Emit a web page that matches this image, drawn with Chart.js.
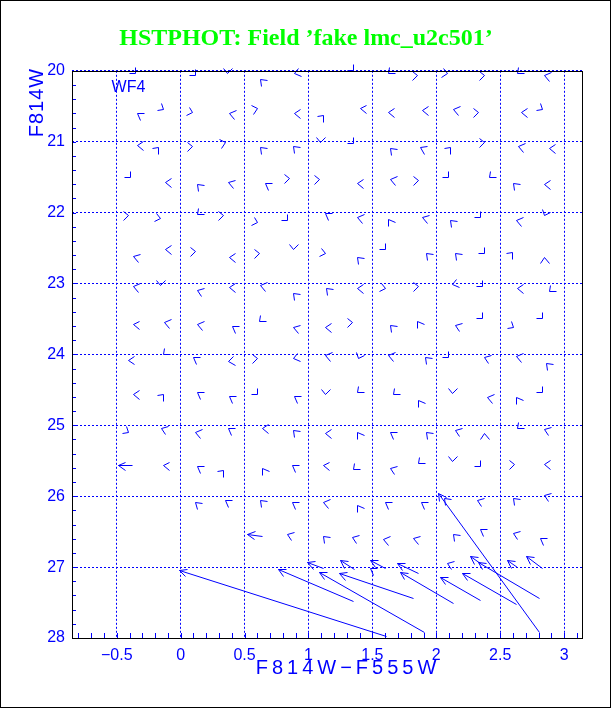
<!DOCTYPE html>
<html>
<head>
<meta charset="utf-8">
<script src="https://cdn.jsdelivr.net/npm/chart.js@4.4.1/dist/chart.umd.min.js"></script>
<style>
  body { margin: 0; background: #fff; }
  #wrap { width: 612px; height: 709px; }
</style>
</head>
<body>
<div id="wrap"><canvas id="chart" width="612" height="709"></canvas></div>
<script>
// axis ticks
const xTicks = [-0.5, 0, 0.5, 1, 1.5, 2, 2.5, 3];
const yTicks = [20, 21, 22, 23, 24, 25, 26, 27, 28];

// small residual arrows, one row per magnitude bin: [x, y, direction deg (0 = right, 90 = up)]
const row200 = [[-0.36,20.03,315],[0.11,20.06,315],[0.36,20.03,270],[0.62,20.11,135],[0.89,20.03,200],[1.35,19.99,315],[1.62,20.03,225],[1.85,20.06,0],[2.08,20.03,350],[2.37,20.06,0],[2.63,20.03,225],[2.84,20.06,170]];
const row205 = [[-0.34,20.59,150],[-0.14,20.54,330],[0.09,20.58,340],[0.38,20.59,170],[0.60,20.52,10],[0.89,20.59,180],[1.11,20.62,45],[1.40,20.52,175],[1.62,20.58,180],[1.89,20.55,180],[2.13,20.54,170],[2.33,20.58,0],[2.66,20.58,180],[2.83,20.54,330]];
const row210 = [[-0.34,21.04,180],[-0.18,21.07,45],[0.09,21.06,0],[0.35,21.00,10],[0.62,21.07,135],[0.88,21.06,135],[1.09,21.00,270],[1.35,21.02,315],[1.64,21.09,135],[1.87,21.07,155],[2.11,21.07,45],[2.37,21.00,0],[2.64,21.06,170],[2.88,21.09,180]];
const row215 = [[-0.40,21.50,315],[-0.12,21.57,180],[0.13,21.59,135],[0.37,21.57,165],[0.66,21.58,150],[0.85,21.51,0],[1.08,21.52,0],[1.38,21.58,180],[1.64,21.52,170],[1.86,21.54,0],[2.09,21.50,315],[2.41,21.50,225],[2.60,21.58,135],[2.84,21.59,180]];
const row220 = [[-0.41,22.03,0],[-0.16,22.07,345],[0.13,22.02,225],[0.33,22.03,0],[0.60,22.13,340],[0.83,22.10,315],[1.13,22.00,150],[1.38,22.06,170],[1.62,22.09,120],[1.89,22.06,165],[2.11,22.10,135],[2.34,22.06,315],[2.62,22.10,170],[2.84,22.03,250]];
const row225 = [[-0.37,22.61,165],[-0.12,22.51,180],[0.11,22.54,0],[0.38,22.62,180],[0.61,22.57,0],[0.88,22.51,270],[1.13,22.57,345],[1.38,22.62,135],[1.60,22.52,315],[1.92,22.57,135],[2.15,22.57,135],[2.37,22.57,315],[2.59,22.55,45],[2.84,22.62,90]];
const row230 = [[-0.37,23.03,170],[-0.16,23.02,270],[0.13,23.09,160],[0.38,23.05,180],[0.62,23.02,170],[0.88,23.13,135],[1.14,23.07,135],[1.38,23.06,180],[1.60,23.07,345],[1.86,23.03,0],[2.12,23.00,200],[2.36,23.03,315],[2.63,23.07,180],[2.88,23.10,225]];
const row235 = [[-0.37,23.57,175],[-0.13,23.55,170],[0.13,23.57,170],[0.40,23.60,150],[0.61,23.53,225],[0.88,23.61,165],[1.13,23.61,180],[1.34,23.55,0],[1.64,23.58,135],[1.85,23.53,120],[2.15,23.58,160],[2.36,23.48,315],[2.60,23.61,330],[2.83,23.48,315]];
const row240 = [[-0.41,24.08,185],[-0.14,23.99,225],[0.10,24.03,150],[0.37,24.10,190],[0.60,24.05,0],[0.88,24.05,200],[1.13,24.01,170],[1.39,24.05,250],[1.62,24.01,170],[1.91,24.03,135],[2.09,24.03,315],[2.37,24.03,160],[2.62,24.02,170],[2.86,24.12,135]];
const row245 = [[-0.37,24.56,180],[-0.14,24.56,45],[0.13,24.53,150],[0.38,24.58,150],[0.60,24.56,315],[0.89,24.58,150],[1.13,24.56,270],[1.38,24.53,225],[1.66,24.56,225],[1.86,24.64,120],[2.12,24.54,270],[2.40,24.60,170],[2.62,24.60,120],[2.83,24.53,315]];
const row250 = [[-0.41,25.09,330],[-0.15,25.04,160],[0.11,25.09,170],[0.37,25.04,150],[0.64,25.04,180],[0.88,25.06,135],[1.13,25.11,180],[1.38,25.09,120],[1.64,25.09,150],[1.92,25.09,135],[2.15,25.06,160],[2.37,25.11,90],[2.63,25.04,225],[2.84,25.05,160]];
const row255 = [[-0.14,25.56,175],[0.13,25.57,150],[0.33,25.63,45],[0.64,25.60,120],[0.87,25.56,150],[1.11,25.56,175],[1.35,25.61,225],[1.64,25.60,160],[1.86,25.53,225],[2.12,25.50,270],[2.34,25.57,315],[2.61,25.54,0],[2.84,25.54,180]];
const row260 = [[0.11,26.08,140],[0.35,26.05,150],[0.62,26.05,135],[0.87,26.08,150],[1.11,26.08,170],[1.38,26.12,120],[1.60,26.08,150],[1.88,26.08,150],[2.06,26.02,135],[2.32,26.05,160],[2.60,26.02,135],[2.84,25.99,160]];
const row265 = [[0.83,26.53,160],[1.11,26.56,135],[1.34,26.57,160],[1.58,26.60,170],[1.82,26.59,165],[2.13,26.54,135],[2.34,26.46,150],[2.60,26.52,160],[2.81,26.59,150]];
const row270 = [[1.48,27.01,150],[2.08,26.94,160]];

// longer arrows: [head x, head y, tail x, tail y]
const longArrows = [
  [-0.49,25.56,-0.38,25.56],
  [0.52,26.53,0.635,26.56],
  [2.01,25.95,2.80,27.91],
  [-0.01,27.04,1.61,27.97],
  [0.76,27.02,1.35,27.48],
  [0.99,26.93,1.11,27.01],
  [1.08,27.07,1.90,27.91],
  [1.24,27.09,1.82,27.43],
  [1.25,26.90,1.36,27.02],
  [1.48,26.90,1.60,27.01],
  [1.69,26.94,1.86,27.09],
  [1.72,27.07,2.13,27.50],
  [2.03,27.14,2.34,27.46],
  [2.20,27.09,2.62,27.52],
  [2.26,26.85,2.34,26.94],
  [2.33,26.93,2.80,27.43],
  [2.55,26.90,2.63,27.00],
  [2.70,26.84,2.83,27.01]
];

const tinyArrows = [].concat(row200, row205, row210, row215, row220, row225, row230,
  row235, row240, row245, row250, row255, row260, row265, row270);

const BLUE = '#0000ff';
const snap = v => Math.round(v) + 0.5;

function drawHead(ctx, hx, hy, back, len, spread) {
  ctx.beginPath();
  [-1, 1].forEach(s => {
    const a = back + s * spread;
    ctx.moveTo(hx, hy);
    ctx.lineTo(snap(hx + len * Math.cos(a)), snap(hy - len * Math.sin(a)));
  });
  ctx.stroke();
}

// arrows, frame, minor ticks and labels
const arrowPlugin = {
  id: 'arrows',
  afterDatasetsDraw(chart) {
    const {ctx, chartArea: ca, scales: {x, y}} = chart;
    ctx.save();
    ctx.strokeStyle = BLUE;
    ctx.lineWidth = 1;

    tinyArrows.forEach(([vx, vy, deg]) => {
      const hx = snap(x.getPixelForValue(vx)), hy = snap(y.getPixelForValue(vy));
      drawHead(ctx, hx, hy, (deg + 180) * Math.PI / 180, 7, 38 * Math.PI / 180);
    });

    longArrows.forEach(([hxv, hyv, txv, tyv]) => {
      const hx = snap(x.getPixelForValue(hxv)), hy = snap(y.getPixelForValue(hyv));
      const tx = snap(x.getPixelForValue(txv)), ty = snap(y.getPixelForValue(tyv));
      ctx.beginPath();
      ctx.moveTo(tx, ty);
      ctx.lineTo(hx, hy);
      ctx.stroke();
      drawHead(ctx, hx, hy, Math.atan2(hy - ty, tx - hx), 8, 30 * Math.PI / 180);
    });

    // minor ticks
    ctx.beginPath();
    for (let v = -0.8; v < 3.15; v += 0.1) {
      const px = snap(x.getPixelForValue(v));
      ctx.moveTo(px, ca.bottom);
      ctx.lineTo(px, ca.bottom - 5);
    }
    for (let v = 20.2; v < 28; v += 0.2) {
      const py = snap(y.getPixelForValue(v));
      ctx.moveTo(ca.left, py);
      ctx.lineTo(ca.left + 4, py);
    }
    ctx.stroke();

    // frame
    ctx.strokeStyle = '#000';
    ctx.strokeRect(Math.round(ca.left) + 0.5, Math.round(ca.top) + 0.5,
      Math.round(ca.right - ca.left), Math.round(ca.bottom - ca.top));
    ctx.strokeRect(0.5, 0.5, chart.width - 2, chart.height - 2);

    // labels
    ctx.fillStyle = BLUE;
    ctx.font = '16px "Liberation Sans"';
    ctx.textAlign = 'left';
    ctx.textBaseline = 'middle';
    ctx.fillText('WF4', x.getPixelForValue(-0.54), y.getPixelForValue(20.24));

    ctx.font = '20px "Liberation Sans"';
    ctx.letterSpacing = '4px';
    ctx.textAlign = 'center';
    ctx.fillText('F814W\u2212F555W', ca.left + 276, ca.bottom + 30);

    ctx.letterSpacing = '1px';
    ctx.translate(37, ca.top - 3);
    ctx.rotate(-Math.PI / 2);
    ctx.textAlign = 'right';
    ctx.fillText('F814W', 0, 0);
    ctx.restore();
  }
};

const allHeads = tinyArrows.map(a => ({x: a[0], y: a[1]}))
  .concat(longArrows.map(a => ({x: a[0], y: a[1]})));

new Chart(document.getElementById('chart'), {
  type: 'scatter',
  data: {
    datasets: [{ data: allHeads, pointRadius: 0 }]
  },
  options: {
    responsive: false,
    animation: false,
    layout: { padding: 0 },
    plugins: {
      legend: { display: false },
      tooltip: { enabled: false },
      title: {
        display: true,
        text: 'HSTPHOT: Field \u2019fake lmc_u2c501\u2019',
        color: '#00ff00',
        font: { family: 'Liberation Serif', size: 24, weight: 'bold' },
        padding: { top: 24, bottom: 18 }
      }
    },
    scales: {
      x: {
        type: 'linear',
        min: -0.85,
        max: 3.14,
        afterBuildTicks: s => { s.ticks = xTicks.map(v => ({ value: v })); },
        afterFit: s => { s.height = 71; },
        grid: { color: BLUE, drawTicks: false },
        border: { display: false, dash: [2, 2] },
        ticks: {
          color: BLUE,
          font: { family: 'Liberation Sans', size: 16 },
          padding: 8,
          maxRotation: 0,
          autoSkip: false,
          callback: v => String(v).replace('-', '\u2212')
        }
      },
      y: {
        type: 'linear',
        min: 20,
        max: 28,
        reverse: true,
        afterBuildTicks: s => { s.ticks = yTicks.map(v => ({ value: v })); },
        afterFit: s => { s.width = 72; },
        grid: { color: BLUE, drawTicks: false },
        border: { display: false, dash: [2, 2] },
        ticks: {
          color: BLUE,
          font: { family: 'Liberation Sans', size: 16 },
          padding: 7
        }
      },
      y2: {
        axis: 'y',
        position: 'right',
        grid: { display: false },
        border: { display: false },
        ticks: { display: false },
        afterFit: s => { s.width = 30; }
      }
    }
  },
  plugins: [arrowPlugin]
});
</script>
</body>
</html>
